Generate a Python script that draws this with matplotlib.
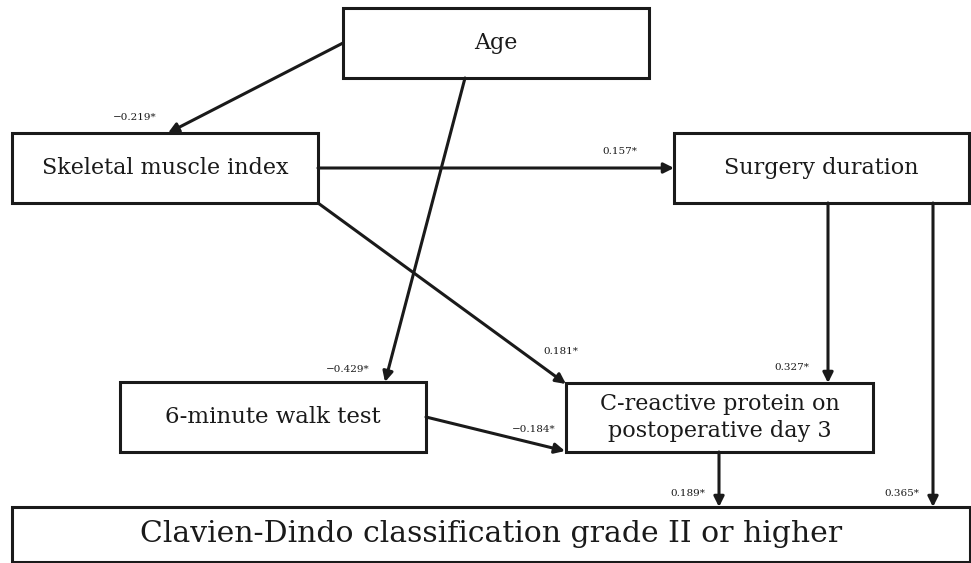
import matplotlib.pyplot as plt
from matplotlib.patches import Rectangle

# boxes of the path diagram: name, x0, y0, x1, y1 (pixel space, y down)
box_names = ["Age", "Skeletal muscle index", "Surgery duration", "6-minute walk test",
             "C-reactive protein on\npostoperative day 3",
             "Clavien-Dindo classification grade II or higher"]
box_x0 = [343, 12, 674, 120, 566, 12]
box_y0 = [8, 133, 133, 382, 383, 507]
box_x1 = [649, 318, 969, 426, 873, 970]
box_y1 = [78, 203, 203, 452, 452, 562]
box_font = [16, 16, 16, 16.5, 16, 21.5]

# path coefficients
coef_labels = ["\u22120.219*", "\u22120.429*", "0.157*", "0.181*", "0.327*",
               "0.365*", "0.189*", "\u22120.184*"]
# arrow start / end points and label anchor
arrow_start = [(343, 43), (465, 78), (318, 168), (318, 203), (828, 203),
               (933, 203), (719, 452), (426, 417)]
arrow_end = [(168, 133), (385, 382), (674, 168), (566, 384), (828, 383),
             (933, 507), (719, 507), (565, 451)]
label_pos = [(135, 118), (348, 370), (620, 151), (561, 352), (792, 367),
             (902, 493), (688, 493), (534, 429)]

fig = plt.figure(figsize=(9.71, 5.63), dpi=100)
ax = fig.add_axes([0, 0, 1, 1])
ax.set_xlim(0, 971)
ax.set_ylim(563, 0)
ax.axis("off")

serif = ["DejaVu Serif"]

for name, x0, y0, x1, y1, fs in zip(box_names, box_x0, box_y0, box_x1, box_y1, box_font):
    ax.add_patch(Rectangle((x0, y0), x1 - x0, y1 - y0, fill=False,
                           edgecolor="#1a1a1a", linewidth=2.2))
    ax.text((x0 + x1) / 2, (y0 + y1) / 2, name, ha="center", va="center",
            fontsize=fs, family=serif, color="#1a1a1a", linespacing=1.25)

for lab, s, e, p in zip(coef_labels, arrow_start, arrow_end, label_pos):
    ax.annotate("", xy=e, xytext=s,
                arrowprops=dict(arrowstyle="-|>,head_length=0.6,head_width=0.3",
                                color="#1a1a1a", lw=2.2, shrinkA=0, shrinkB=0))
    ax.text(p[0], p[1], lab, ha="center", va="center", fontsize=7.5,
            family=serif, color="#1a1a1a")

fig.savefig("out.png", dpi=100, facecolor="white")
